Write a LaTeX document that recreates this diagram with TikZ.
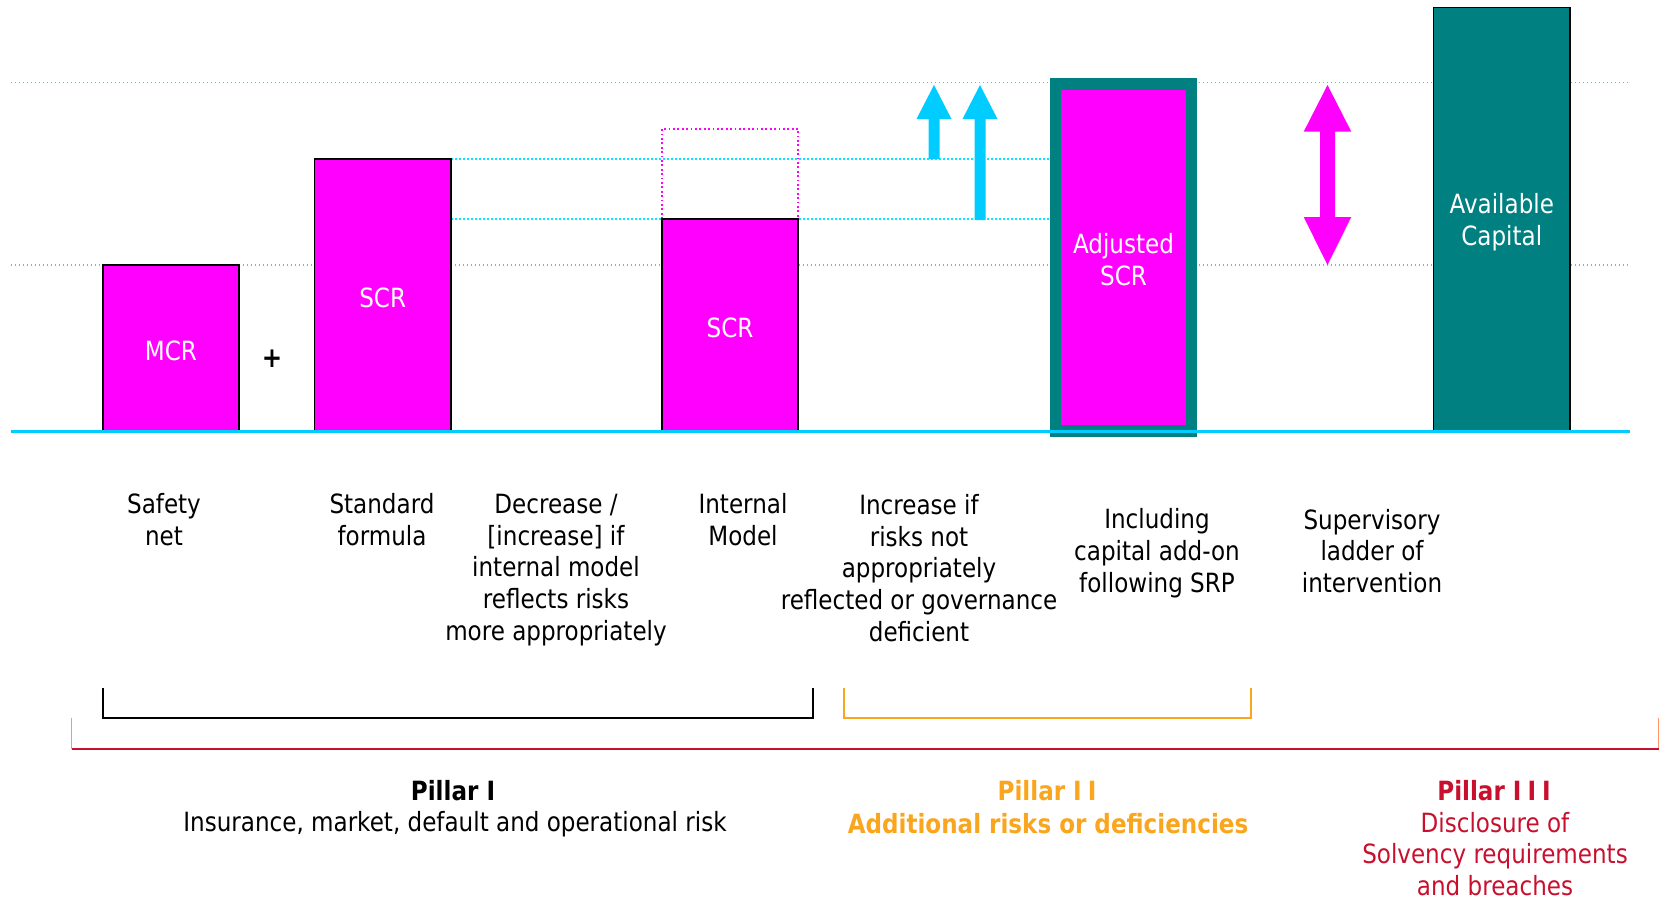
\documentclass[tikz,border=0pt]{standalone}
\usepackage{fontspec}
\setmainfont{DejaVu Sans}[FakeStretch=0.87]
\definecolor{mag}{RGB}{255,0,255}
\definecolor{tealc}{RGB}{0,128,128}
\definecolor{cyanarr}{RGB}{0,204,255}
\definecolor{cyandot}{RGB}{0,235,255}
\definecolor{orangec}{RGB}{250,165,30}
\definecolor{redc}{RGB}{200,16,46}
\definecolor{peach}{RGB}{255,150,100}
\begin{document}
\begin{tikzpicture}[x=1pt,y=-1pt,
  txt/.style={align=center, font=\fontsize{26.5}{31.8}\selectfont, inner sep=0pt},
  wtxt/.style={txt, text=white, yshift=-2.5pt},
  bar/.style={draw=black, line width=1.8pt, fill=mag, inner sep=0pt},
  dotline/.style={cyandot, line width=1.6pt, dash pattern=on 1.6pt off 2.4pt},
  brk/.style={line width=2pt}
]
\useasboundingbox (0,0) rectangle (1660,900);

% dotted guide lines
\draw[dotline] (10.6,82.6) -- (1630,82.6);
\draw[dotline] (10.6,264.7) -- (1630,264.7);
\draw[dotline] (451,158.8) -- (1052,158.8);
\draw[dotline] (451,219) -- (1052,219);

% bars
\node[bar, minimum width=136.6pt, minimum height=166.3pt] (mcr) at (171,347.85) {};
\node[wtxt] (mcrt) at (mcr.center) {MCR};
\node[bar, minimum width=136.6pt, minimum height=272.2pt] (scr1) at (382.7,294.9) {};
\node[wtxt] (scr1t) at (scr1.center) {SCR};
\draw[mag, line width=1.8pt, dash pattern=on 1.8pt off 2.6pt] (661.7,219) -- (661.7,129) -- (798.3,129) -- (798.3,219);
\node[bar, minimum width=136.6pt, minimum height=212pt] (scr2) at (730,325) {};
\node[wtxt] (scr2t) at (scr2.center) {SCR};

% adjusted SCR
\node[fill=tealc, minimum width=147pt, minimum height=359pt, inner sep=0pt] (adjout) at (1123.5,257.5) {};
\node[fill=mag, minimum width=125pt, minimum height=335pt, inner sep=0pt] (adj) at (1123.5,257.5) {};
\node[wtxt] (adjt) at (adj.center) {Adjusted\\SCR};

% available capital
\node[draw=black, line width=1.5pt, fill=tealc, minimum width=136.5pt, minimum height=424.4pt, inner sep=0pt]
  (avail) at (1501.75,219.5) {};
\node[wtxt] (availt) at (avail.center) {Available\\Capital};

% baseline
\draw[cyanarr, line width=2.6pt] (10.6,431.5) -- (1630,431.5);

% plus
\node[txt, font=\fontsize{28}{31.8}\selectfont\bfseries] (plus) at (272,359) {+};

% cyan arrows
\fill[cyanarr] (928.5,159) -- (939.5,159) -- (939.5,119) -- (951.5,119) -- (934,85) -- (916.5,119) -- (928.5,119) -- cycle;
\fill[cyanarr] (974.5,220) -- (985.5,220) -- (985.5,119) -- (997.5,119) -- (980,85) -- (962.5,119) -- (974.5,119) -- cycle;

% magenta double arrow
\fill[mag] (1327.5,85) -- (1351.3,131.7) -- (1335,131.7) -- (1335,217) -- (1351.3,217) -- (1327.5,265)
  -- (1303.7,217) -- (1320,217) -- (1320,131.7) -- (1303.7,131.7) -- cycle;

% labels
\node[txt] (l1) at (164,520) {Safety\\net};
\node[txt] (l2) at (382,520) {Standard\\formula};
\node[txt] (l3) at (556,570) {Decrease /\\{[increase]} if\\internal model\\reflects risks\\more appropriately};
\node[txt] (l4) at (743,520) {Internal\\Model};
\node[txt] (l5) at (919,568) {Increase if\\risks not\\appropriately\\reflected or governance\\deficient};
\node[txt] (l6) at (1157,553) {Including\\capital add-on\\following SRP};
\node[txt] (l7) at (1372,551) {Supervisory\\ladder of\\intervention};

% brackets
\draw[brk, black] (102.7,688) -- (102.7,718) -- (813,718) -- (813,688);
\draw[brk, orangec] (843.8,688) -- (843.8,718) -- (1251.4,718) -- (1251.4,688);
\draw[line width=1.6pt, peach] (71.5,718) -- (71.5,749);
\draw[line width=1.6pt, peach] (1658.5,718) -- (1658.5,749);
\draw[line width=2.6pt, redc] (71.5,749) -- (1658.5,749);

% pillar texts
\node[txt, font=\fontsize{26.5}{31.8}\selectfont\bfseries] (p1) at (453,791) {Pillar I};
\node[txt] (p1t) at (455,824) {Insurance, market, default and operational risk};
\node[txt, text=orangec, font=\fontsize{26.5}{31.8}\selectfont\bfseries] (p2) at (1047,791) {Pillar I\kern6pt I};
\node[txt, text=orangec, font=\fontsize{26.5}{31.8}\selectfont\bfseries] (p2t) at (1048,824) {Additional risks or deficiencies};
\node[txt, text=redc, font=\fontsize{26.5}{31.8}\selectfont\bfseries] (p3) at (1494,791) {Pillar I\kern6pt I\kern6pt I};
\node[txt, text=redc] (p3t) at (1495,854) {Disclosure of\\Solvency requirements\\and breaches};
\end{tikzpicture}
\end{document}
